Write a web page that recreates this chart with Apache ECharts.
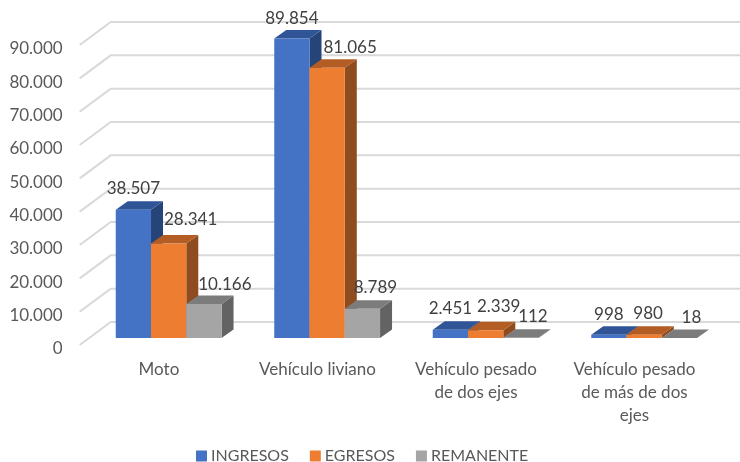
<!DOCTYPE html>
<html>
<head>
<meta charset="utf-8">
<style>html,body{margin:0;padding:0;background:#fff}#chart{width:740px;height:462px}</style>
<script src="https://cdn.jsdelivr.net/npm/echarts@6/dist/echarts.min.js"></script>
</head>
<body>
<div id="chart"></div>
<script>
var categories = ['Moto', 'Vehículo liviano', 'Vehículo pesado\nde dos ejes', 'Vehículo pesado\nde más de dos\nejes'];
var ingresos = [38507, 89854, 2451, 998];
var egresos = [28341, 81065, 2339, 980];
var remanente = [10166, 8789, 112, 18];
var yTicks = [0, 10000, 20000, 30000, 40000, 50000, 60000, 70000, 80000, 90000];

// hand placed labels in the original, dx/dy from the default spot
var nudgeIngresos = [[0, 0], [0, 1], [0, 0], [0, 1]];
var nudgeEgresos = [[22, -3], [23, 1], [13, -3], [4, 0]];
var nudgeRemanente = [[21, 1], [13, 0], [12, 0], [12, 1]];

var font = 'Lato';
var fmt = function(v) {
	return String(v).replace(/\B(?=(\d{3})+$)/g, '.');
};

function wallItem(params, api) {
	var p = api.coord([0, api.value(1)]);
	var x = params.coordSys.x;
	return {
		type: 'polyline',
		shape: { points: [[x, p[1]], [x + 31, p[1] - 23], [api.getWidth(), p[1] - 23]] },
		style: { fill: null, stroke: '#d9d9d9', lineWidth: 2 }
	};
}

function barItem(index, values, nudge, face, top, side) {
	return function(params, api) {
		var cat = api.value(0);
		var val = api.value(1);
		var band = api.size([1, 0])[0];
		var w = band * 0.2225;
		var base = api.coord([cat, 0]);
		var head = api.coord([cat, val]);
		// bars stand a bit behind the front edge of the floor
		var x0 = base[0] + 9.7 + (index - 1.5) * w;
		var x1 = x0 + w;
		var y0 = base[1] - 7;
		var y1 = head[1] - 7;
		var dx = 12, dy = 8.5;
		return {
			type: 'group',
			children: [
				{ type: 'polygon', shape: { points: [[x1, y0], [x1 + dx, y0 - dy], [x1 + dx, y1 - dy], [x1, y1]] }, style: { fill: side } },
				{ type: 'polygon', shape: { points: [[x0, y1], [x1, y1], [x1 + dx, y1 - dy], [x0 + dx, y1 - dy]] }, style: { fill: top } },
				{ type: 'rect', shape: { x: x0, y: y1, width: w, height: y0 - y1 }, style: { fill: face } },
				{
					type: 'text',
					z2: 10,
					style: {
						x: x0 + w / 2 + nudge[params.dataIndex][0],
						y: y1 - 21 + nudge[params.dataIndex][1],
						text: fmt(values[params.dataIndex]),
						font: '17px ' + font,
						fill: '#404040',
						align: 'center',
						verticalAlign: 'middle'
					}
				}
			]
		};
	};
}

function barSeries(name, index, values, nudge, face, top, side) {
	return {
		type: 'custom',
		name: name,
		renderItem: barItem(index, values, nudge, face, top, side),
		data: values.map(function(v, i) { return [i, v]; }),
		encode: { x: 0, y: 1 },
		itemStyle: { color: face },
		animation: false,
		silent: true,
		z: 3
	};
}

var chart = echarts.init(document.getElementById('chart'));
chart.setOption({
	animation: false,
	backgroundColor: '#fff',
	grid: [
		{ left: 79.7, right: 26.3, top: 45, bottom: 117 },
		// tick labels sit a little below the wall lines
		{ left: 79.7, right: 26.3, top: 49, bottom: 113 }
	],
	xAxis: [
		{
			type: 'category',
			data: categories,
			axisLine: { show: false },
			axisTick: { show: false },
			axisLabel: { color: '#595959', fontFamily: font, fontSize: 17, lineHeight: 23, margin: 13, interval: 0 }
		},
		{ type: 'category', data: categories, gridIndex: 1, show: false }
	],
	yAxis: [
		{
			type: 'value',
			min: 0,
			max: 90000,
			interval: 10000,
			axisLine: { show: false },
			axisTick: { show: false },
			splitLine: { show: false },
			axisLabel: { show: false }
		},
		{
			type: 'value',
			gridIndex: 1,
			min: 0,
			max: 90000,
			interval: 10000,
			axisLine: { show: false },
			axisTick: { show: false },
			splitLine: { show: false },
			axisLabel: { color: '#595959', fontFamily: font, fontSize: 17, margin: 17, formatter: fmt }
		}
	],
	legend: {
		data: ['INGRESOS', 'EGRESOS', 'REMANENTE'],
		left: 196,
		top: 448,
		padding: 0,
		icon: 'rect',
		itemWidth: 11,
		itemHeight: 11,
		itemGap: 21,
		textStyle: { color: '#595959', fontFamily: font, fontSize: 16, padding: [0, 0, 0, -1] }
	},
	series: [
		{
			type: 'custom',
			name: 'pared',
			renderItem: wallItem,
			data: yTicks.map(function(v) { return [0, v]; }),
			encode: { x: 0, y: 1 },
			silent: true,
			z: 1
		},
		barSeries('INGRESOS', 0, ingresos, nudgeIngresos, '#4472c4', '#2f5597', '#264478'),
		barSeries('EGRESOS', 1, egresos, nudgeEgresos, '#ed7d31', '#b35d24', '#8f4c1e'),
		barSeries('REMANENTE', 2, remanente, nudgeRemanente, '#a5a5a5', '#7c7c7c', '#636363')
	]
});
</script>
</body>
</html>
